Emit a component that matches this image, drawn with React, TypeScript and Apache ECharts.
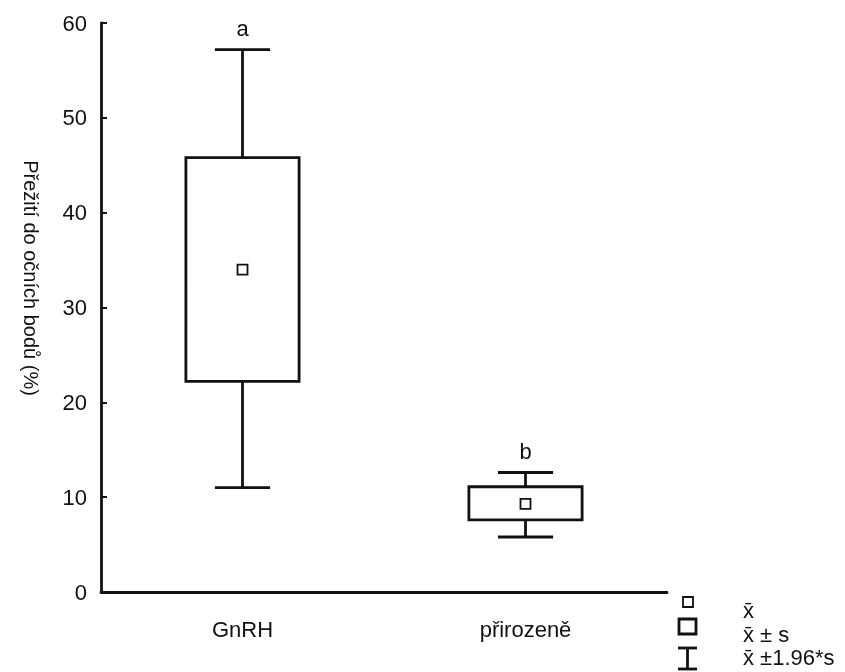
import React, { useEffect, useRef } from "react";
import * as echarts from "echarts";

// Survival to the eyed-egg stage, by treatment
const categories = ["GnRH", "přirozeně"];
const lowWhisker = [11.0, 5.8]; // mean - 1.96*s
const lowBox = [22.2, 7.6]; // mean - s
const means = [34.0, 9.3];
const highBox = [45.8, 11.1]; // mean + s
const highWhisker = [57.2, 12.6]; // mean + 1.96*s
const groupLetters = ["a", "b"];

const yTicks = { min: 0, max: 60, interval: 10 };
const yTitle = "Přežití do očních bodů (%)";
const legendLabels = ["x̄", "x̄ ± s", "x̄ ±1.96*s"];

const FONT = "'Liberation Sans', Arial, sans-serif";
const INK = "#111";

export default function App() {
  const ref = useRef<HTMLDivElement>(null);

  useEffect(() => {
    if (!ref.current) return;
    const chart = echarts.init(ref.current, undefined, { renderer: "svg" });

    const seriesData = categories.map((_, i) => [
      i,
      lowWhisker[i],
      lowBox[i],
      means[i],
      highBox[i],
      highWhisker[i],
    ]);

    const renderItem = (params: any, api: any) => {
      const idx = api.value(0);
      const band = api.size([1, 0])[0];
      const boxW = band * 0.4;
      const capW = band * 0.195;
      const [cx, yLow] = api.coord([idx, api.value(1)]);
      const yQ1 = api.coord([idx, api.value(2)])[1];
      const yMean = api.coord([idx, api.value(3)])[1];
      const yQ3 = api.coord([idx, api.value(4)])[1];
      const yHigh = api.coord([idx, api.value(5)])[1];
      const line = { stroke: INK, lineWidth: 2.8 };
      return {
        type: "group",
        children: [
          { type: "line", shape: { x1: cx, y1: yHigh, x2: cx, y2: yQ3 }, style: line },
          { type: "line", shape: { x1: cx, y1: yQ1, x2: cx, y2: yLow }, style: line },
          { type: "line", shape: { x1: cx - capW / 2, y1: yHigh, x2: cx + capW / 2, y2: yHigh }, style: line },
          { type: "line", shape: { x1: cx - capW / 2, y1: yLow, x2: cx + capW / 2, y2: yLow }, style: line },
          {
            type: "rect",
            shape: { x: cx - boxW / 2, y: yQ3, width: boxW, height: yQ1 - yQ3 },
            style: { fill: "#fff", stroke: INK, lineWidth: 2.8 },
          },
          {
            type: "rect",
            shape: { x: cx - 5, y: yMean - 5, width: 10, height: 10 },
            style: { fill: "#fff", stroke: INK, lineWidth: 1.8 },
          },
          {
            type: "text",
            style: {
              x: cx,
              y: yHigh - 10,
              text: groupLetters[idx],
              fill: INK,
              font: `22px ${FONT}`,
              align: "center",
              verticalAlign: "bottom",
            },
          },
        ],
      };
    };

    const legendStyle = { fill: INK, font: `22px ${FONT}`, verticalAlign: "middle" };

    chart.setOption({
      animation: false,
      grid: { left: 101, right: 178, top: 23, bottom: 80 },
      xAxis: {
        type: "category",
        data: categories,
        boundaryGap: true,
        axisLine: { lineStyle: { color: INK, width: 2.8 } },
        axisTick: { inside: true, alignWithLabel: true, length: 4, lineStyle: { color: INK, width: 2 } },
        axisLabel: { margin: 26, color: INK, fontSize: 22, fontFamily: FONT },
        splitLine: { show: false },
      },
      yAxis: {
        type: "value",
        min: yTicks.min,
        max: yTicks.max,
        interval: yTicks.interval,
        axisLine: { show: true, lineStyle: { color: INK, width: 2.8 } },
        axisTick: { show: true, inside: true, length: 6, lineStyle: { color: INK, width: 2 } },
        axisLabel: { margin: 14, color: INK, fontSize: 22, fontFamily: FONT },
        splitLine: { show: false },
      },
      series: [
        {
          type: "custom",
          renderItem,
          data: seriesData,
          encode: { x: 0, y: [1, 2, 3, 4, 5] },
          clip: false,
        },
      ],
      graphic: [
        {
          type: "text",
          x: 31,
          y: 278,
          rotation: -Math.PI / 2,
          style: { fill: INK, font: `20px ${FONT}`, text: yTitle, align: "center", verticalAlign: "middle" },
        },
        // legend: mean marker
        {
          type: "rect",
          shape: { x: 683, y: 597, width: 10, height: 10 },
          style: { fill: "#fff", stroke: INK, lineWidth: 1.8 },
        },
        // legend: ±s box
        {
          type: "rect",
          shape: { x: 679, y: 619, width: 17, height: 15 },
          style: { fill: "#fff", stroke: INK, lineWidth: 2.8 },
        },
        // legend: ±1.96*s whisker
        { type: "line", shape: { x1: 678, y1: 648, x2: 697, y2: 648 }, style: { stroke: INK, lineWidth: 2.8 } },
        { type: "line", shape: { x1: 687.5, y1: 648, x2: 687.5, y2: 669 }, style: { stroke: INK, lineWidth: 2.8 } },
        { type: "line", shape: { x1: 678, y1: 669, x2: 697, y2: 669 }, style: { stroke: INK, lineWidth: 2.8 } },
        { type: "text", x: 743, y: 610, style: { ...legendStyle, text: legendLabels[0] } },
        { type: "text", x: 743, y: 634, style: { ...legendStyle, text: legendLabels[1] } },
        { type: "text", x: 743, y: 657, style: { ...legendStyle, text: legendLabels[2] } },
      ],
    });

    return () => chart.dispose();
  }, []);

  return (
    <div
      ref={ref}
      style={{ position: "fixed", left: 0, top: 0, width: 845, height: 672 }}
    />
  );
}
